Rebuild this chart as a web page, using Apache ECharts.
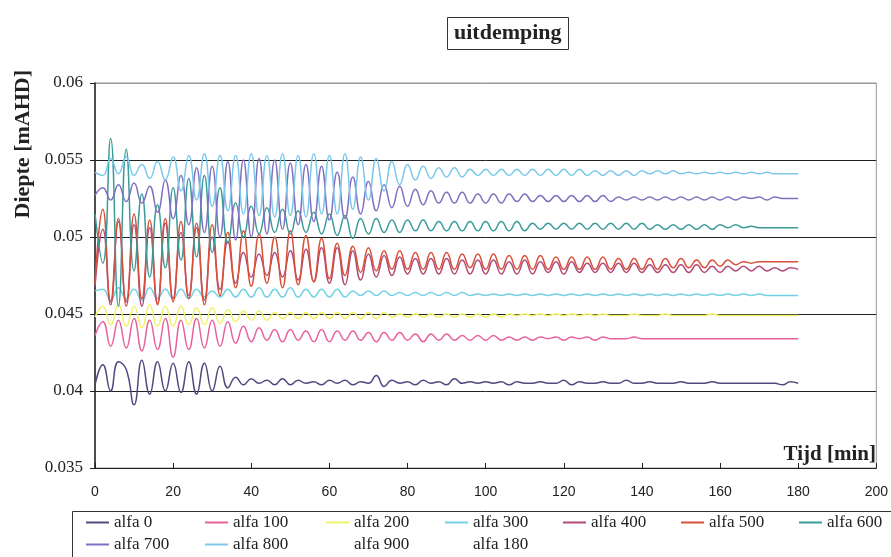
<!DOCTYPE html>
<html>
<head>
<meta charset="utf-8">
<title>uitdemping</title>
<script src="https://cdn.jsdelivr.net/npm/echarts@6/dist/echarts.min.js"></script>
<style>
html, body { margin: 0; padding: 0; background: #fff; }
#uitdemping { width: 891px; height: 557px; }
</style>
</head>
<body>
<div id="uitdemping"></div>
<script>
// tijd in minuten (elke 2 min)
var tijd = [0,2,4,6,8,10,12,14,16,18,20,22,24,26,28,30,32,34,36,38,40,42,44,46,48,50,52,54,56,58,
  60,62,64,66,68,70,72,74,76,78,80,82,84,86,88,90,92,94,96,98,100,102,104,106,108,110,112,114,116,118,
  120,122,124,126,128,130,132,134,136,138,140,142,144,146,148,150,152,154,156,158,160,162,164,166,168,170,172,174,176,178,180]

// legenda namen
var namen = ['alfa 0','alfa 100','alfa 200','alfa 300','alfa 400','alfa 500','alfa 600','alfa 700','alfa 800','alfa 900','alfa 180']

// y-as ticks
var yTicks = [0.035, 0.04, 0.045, 0.05, 0.055, 0.06]

var alfa0 = [0.0404,0.0417,0.0400,0.0419,0.0414,0.0391,0.0420,0.0398,0.0419,0.0400,
  0.0418,0.0399,0.0419,0.0398,0.0418,0.0400,0.0416,0.0402,0.0409,0.0404,
  0.0408,0.0405,0.0407,0.0404,0.0408,0.0404,0.0407,0.0405,0.0406,0.0404,
  0.0407,0.0405,0.0407,0.0404,0.0406,0.0405,0.0410,0.0403,0.0407,0.0405,
  0.0406,0.0404,0.0407,0.0405,0.0406,0.0404,0.0408,0.0405,0.0406,0.0405,
  0.0406,0.0405,0.0406,0.0404,0.0406,0.0405,0.0405,0.0406,0.0405,0.0405,
  0.0407,0.0404,0.0406,0.0405,0.0405,0.0406,0.0405,0.0405,0.0407,0.0405,
  0.0405,0.0406,0.0405,0.0405,0.0405,0.0406,0.0405,0.0405,0.0405,0.0406,
  0.0405,0.0405,0.0405,0.0405,0.0405,0.0405,0.0405,0.0405,0.0404,0.0406,0.0405]
var alfa100 = [0.0436,0.0445,0.0429,0.0446,0.0428,0.0447,0.0426,0.0446,0.0427,0.0447,
  0.0422,0.0446,0.0427,0.0447,0.0428,0.0446,0.0429,0.0445,0.0431,0.0442,
  0.0432,0.0441,0.0433,0.0440,0.0432,0.0440,0.0433,0.0439,0.0432,0.0440,
  0.0432,0.0439,0.0433,0.0439,0.0433,0.0438,0.0432,0.0438,0.0433,0.0438,
  0.0433,0.0437,0.0432,0.0437,0.0433,0.0437,0.0433,0.0436,0.0433,0.0436,
  0.0433,0.0436,0.0433,0.0435,0.0433,0.0435,0.0433,0.0435,0.0434,0.0435,
  0.0433,0.0435,0.0434,0.0435,0.0433,0.0435,0.0434,0.0434,0.0434,0.0435,
  0.0434,0.0434,0.0434,0.0434,0.0434,0.0434,0.0434,0.0434,0.0434,0.0434,
  0.0434,0.0434,0.0434,0.0434,0.0434,0.0434,0.0434,0.0434,0.0434,0.0434,0.0434]
var alfa200 = [0.0448,0.0455,0.0443,0.0456,0.0442,0.0455,0.0441,0.0456,0.0442,0.0455,
  0.0442,0.0455,0.0443,0.0454,0.0443,0.0454,0.0444,0.0453,0.0445,0.0452,
  0.0446,0.0452,0.0446,0.0451,0.0447,0.0451,0.0447,0.0451,0.0447,0.0451,
  0.0447,0.0451,0.0447,0.0451,0.0447,0.0451,0.0447,0.0451,0.0448,0.0450,
  0.0448,0.0450,0.0448,0.0450,0.0448,0.0450,0.0448,0.0450,0.0448,0.0450,
  0.0448,0.0450,0.0448,0.0450,0.0449,0.0450,0.0449,0.0450,0.0449,0.0450,
  0.0449,0.0450,0.0449,0.0450,0.0449,0.0450,0.0449,0.0449,0.0449,0.0450,
  0.0449,0.0449,0.0449,0.0450,0.0449,0.0449,0.0449,0.0449,0.0449,0.0450,
  0.0449,0.0449,0.0449,0.0449,0.0449,0.0449,0.0449,0.0449,0.0449,0.0449,0.0449]
var alfa300 = [0.0465,0.0466,0.0459,0.0467,0.0460,0.0466,0.0459,0.0467,0.0460,0.0466,
  0.0460,0.0466,0.0460,0.0466,0.0461,0.0465,0.0461,0.0466,0.0461,0.0466,
  0.0461,0.0467,0.0461,0.0466,0.0461,0.0467,0.0461,0.0466,0.0461,0.0466,
  0.0461,0.0466,0.0461,0.0465,0.0462,0.0465,0.0462,0.0465,0.0462,0.0464,
  0.0462,0.0464,0.0462,0.0464,0.0462,0.0464,0.0462,0.0464,0.0462,0.0463,
  0.0462,0.0463,0.0462,0.0463,0.0462,0.0463,0.0462,0.0463,0.0462,0.0463,
  0.0462,0.0463,0.0462,0.0463,0.0462,0.0463,0.0462,0.0463,0.0462,0.0463,
  0.0462,0.0463,0.0462,0.0463,0.0462,0.0463,0.0462,0.0463,0.0462,0.0463,
  0.0462,0.0463,0.0462,0.0463,0.0462,0.0463,0.0462,0.0462,0.0462,0.0462,0.0462]
var alfa400 = [0.0468,0.0505,0.0456,0.0510,0.0458,0.0508,0.0455,0.0506,0.0457,0.0509,
  0.0460,0.0503,0.0462,0.0506,0.0459,0.0500,0.0466,0.0497,0.0470,0.0490,
  0.0474,0.0489,0.0475,0.0490,0.0474,0.0491,0.0472,0.0492,0.0471,0.0493,
  0.0470,0.0493,0.0469,0.0491,0.0472,0.0489,0.0474,0.0488,0.0475,0.0487,
  0.0476,0.0486,0.0476,0.0486,0.0476,0.0486,0.0476,0.0485,0.0476,0.0485,
  0.0476,0.0485,0.0476,0.0484,0.0476,0.0485,0.0476,0.0484,0.0477,0.0484,
  0.0476,0.0484,0.0477,0.0483,0.0477,0.0483,0.0477,0.0483,0.0477,0.0483,
  0.0477,0.0482,0.0477,0.0482,0.0477,0.0482,0.0477,0.0482,0.0477,0.0481,
  0.0477,0.0481,0.0478,0.0481,0.0478,0.0481,0.0478,0.0480,0.0478,0.0480,0.0479]
var alfa500 = [0.0470,0.0518,0.0458,0.0512,0.0455,0.0515,0.0460,0.0511,0.0456,0.0512,
  0.0458,0.0510,0.0460,0.0509,0.0456,0.0508,0.0462,0.0503,0.0467,0.0504,
  0.0468,0.0502,0.0470,0.0500,0.0467,0.0504,0.0469,0.0501,0.0471,0.0499,
  0.0473,0.0496,0.0475,0.0494,0.0477,0.0493,0.0478,0.0491,0.0479,0.0491,
  0.0479,0.0490,0.0479,0.0490,0.0479,0.0490,0.0479,0.0489,0.0480,0.0489,
  0.0479,0.0489,0.0479,0.0488,0.0479,0.0488,0.0479,0.0488,0.0479,0.0487,
  0.0479,0.0487,0.0479,0.0487,0.0479,0.0487,0.0479,0.0486,0.0479,0.0486,
  0.0479,0.0486,0.0479,0.0486,0.0480,0.0486,0.0480,0.0485,0.0480,0.0485,
  0.0481,0.0485,0.0482,0.0484,0.0483,0.0484,0.0484,0.0484,0.0484,0.0484,0.0484]
var alfa600 = [0.0515,0.0483,0.0564,0.0455,0.0557,0.0478,0.0528,0.0474,0.0521,0.0480,
  0.0532,0.0485,0.0538,0.0487,0.0540,0.0490,0.0532,0.0496,0.0522,0.0500,
  0.0520,0.0502,0.0519,0.0503,0.0518,0.0502,0.0517,0.0503,0.0516,0.0502,
  0.0515,0.0501,0.0514,0.0499,0.0512,0.0502,0.0512,0.0503,0.0511,0.0503,
  0.0511,0.0504,0.0511,0.0504,0.0510,0.0504,0.0510,0.0504,0.0510,0.0504,
  0.0510,0.0504,0.0510,0.0504,0.0510,0.0504,0.0509,0.0505,0.0509,0.0505,
  0.0509,0.0505,0.0509,0.0505,0.0509,0.0505,0.0509,0.0505,0.0509,0.0505,
  0.0509,0.0505,0.0508,0.0505,0.0508,0.0505,0.0508,0.0505,0.0508,0.0505,
  0.0508,0.0506,0.0508,0.0506,0.0507,0.0506,0.0506,0.0506,0.0506,0.0506,0.0506]
var alfa700 = [0.0527,0.0532,0.0524,0.0534,0.0523,0.0535,0.0522,0.0533,0.0516,0.0537,
  0.0512,0.0540,0.0508,0.0545,0.0503,0.0546,0.0500,0.0549,0.0498,0.0550,
  0.0500,0.0551,0.0502,0.0550,0.0505,0.0548,0.0508,0.0547,0.0510,0.0546,
  0.0511,0.0542,0.0512,0.0539,0.0515,0.0536,0.0517,0.0534,0.0519,0.0533,
  0.0520,0.0531,0.0521,0.0530,0.0522,0.0529,0.0522,0.0529,0.0522,0.0528,
  0.0522,0.0528,0.0522,0.0528,0.0523,0.0528,0.0523,0.0527,0.0523,0.0527,
  0.0523,0.0527,0.0523,0.0527,0.0523,0.0527,0.0523,0.0526,0.0524,0.0526,
  0.0524,0.0526,0.0524,0.0526,0.0524,0.0526,0.0524,0.0526,0.0524,0.0526,
  0.0524,0.0526,0.0524,0.0526,0.0525,0.0526,0.0524,0.0526,0.0525,0.0525,0.0525]
var alfa800 = [0.0542,0.0540,0.0551,0.0541,0.0552,0.0540,0.0547,0.0538,0.0549,0.0537,
  0.0552,0.0530,0.0553,0.0524,0.0554,0.0520,0.0553,0.0517,0.0553,0.0515,
  0.0554,0.0514,0.0553,0.0513,0.0554,0.0514,0.0553,0.0513,0.0554,0.0515,
  0.0553,0.0515,0.0554,0.0518,0.0552,0.0524,0.0551,0.0530,0.0549,0.0534,
  0.0547,0.0537,0.0546,0.0538,0.0545,0.0539,0.0545,0.0539,0.0544,0.0540,
  0.0544,0.0540,0.0544,0.0540,0.0544,0.0540,0.0544,0.0540,0.0544,0.0540,
  0.0544,0.0540,0.0544,0.0540,0.0543,0.0540,0.0543,0.0540,0.0543,0.0540,
  0.0543,0.0541,0.0543,0.0541,0.0543,0.0541,0.0542,0.0541,0.0542,0.0541,
  0.0542,0.0541,0.0542,0.0541,0.0542,0.0541,0.0542,0.0541,0.0541,0.0541,0.0541]
// alfa 900 en alfa 180 staan wel in de legenda maar zonder zichtbare lijn
var alfa900 = []
var alfa180 = []

var reeksen = [alfa0, alfa100, alfa200, alfa300, alfa400, alfa500, alfa600, alfa700, alfa800, alfa900, alfa180]
var kleuren = ['#4f4a80','#e8609c','#f2f26a','#72d2e4','#b04a78','#d8503a','#3a9c98','#8070c0','#7cc8ec','#ffffff','#ffffff']

var serif = '"Liberation Serif", "DejaVu Serif", serif'

// maak de series uit tijd + diepte
var series = []
for (var i = 0; i < reeksen.length; i++) {
    var punten = []
    for (var j = 0; j < reeksen[i].length; j++) {
        punten.push([tijd[j], reeksen[i][j]])
    }
    series.push({
        name: namen[i],
        type: 'line',
        data: punten,
        symbol: 'none',
        smooth: true,
        color: kleuren[i],
        lineStyle: { width: 1.5, color: kleuren[i] },
        animation: false
    })
}

// legenda: elk item een eigen kolom, 7 per rij
var legendKolom = [86, 205, 326, 445, 563, 681, 799]
var legends = []
for (var k = 0; k < namen.length; k++) {
    legends.push({
        data: [namen[k]],
        left: legendKolom[k % 7],
        top: k < 7 ? 514 : 536,
        icon: 'rect',
        itemWidth: 23,
        itemHeight: 2,
        padding: 0,
        selectedMode: false,
        textStyle: { fontFamily: serif, fontSize: 17, color: '#222' }
    })
}

var option = {
    backgroundColor: '#fff',
    animation: false,
    title: {
        text: 'uitdemping',
        left: 447,
        top: 17,
        padding: [5, 7, 6, 7],
        borderColor: '#333',
        borderWidth: 1,
        textStyle: { fontFamily: serif, fontSize: 22, fontWeight: 'bold', color: '#222' }
    },
    legend: legends,
    grid: {
        left: 95,
        right: 13,
        top: 83,
        bottom: 89,
        show: true,
        borderColor: '#999',
        borderWidth: 1,
        backgroundColor: '#fff'
    },
    xAxis: {
        type: 'value',
        min: 0,
        max: 200,
        interval: 20,
        axisLine: { lineStyle: { color: '#222', width: 1 } },
        axisTick: { inside: true, length: 5, lineStyle: { color: '#222' } },
        splitLine: { show: false },
        axisLabel: { margin: 17, fontFamily: '"Liberation Sans Narrow", "Liberation Sans", Arial, sans-serif', fontSize: 14, color: '#222' }
    },
    yAxis: {
        type: 'value',
        min: yTicks[0],
        max: yTicks[yTicks.length - 1],
        interval: 0.005,
        axisLine: { show: true, lineStyle: { color: '#222', width: 1.5 } },
        axisTick: { show: true, length: 5, lineStyle: { color: '#222' } },
        splitLine: { lineStyle: { color: ['#222', '#222', '#222', '#222', '#222', '#999'], width: 1 } },
        axisLabel: { margin: 12, fontFamily: serif, fontSize: 17, color: '#222' }
    },
    graphic: [
        {
            type: 'text',
            left: 12,
            top: 70,
            style: {
                text: 'Diepte [mAHD]',
                font: 'bold 22px ' + serif,
                fill: '#222'
            },
            rotation: Math.PI / 2,
            originX: 0,
            originY: 0
        },
        {
            type: 'text',
            right: 15,
            top: 444,
            style: {
                text: 'Tijd [min]',
                font: 'bold 21px ' + serif,
                fill: '#222'
            }
        },
        {
            type: 'rect',
            left: 70,
            top: 509,
            shape: { width: 840, height: 60 },
            style: { fill: 'none', stroke: '#333', lineWidth: 1 },
            z: -1
        }
    ],
    series: series
}

var uitdempingDom = document.getElementById('uitdemping')
var uitdempingChart = echarts.init(uitdempingDom)
uitdempingChart.setOption(option)
</script>
</body>
</html>
